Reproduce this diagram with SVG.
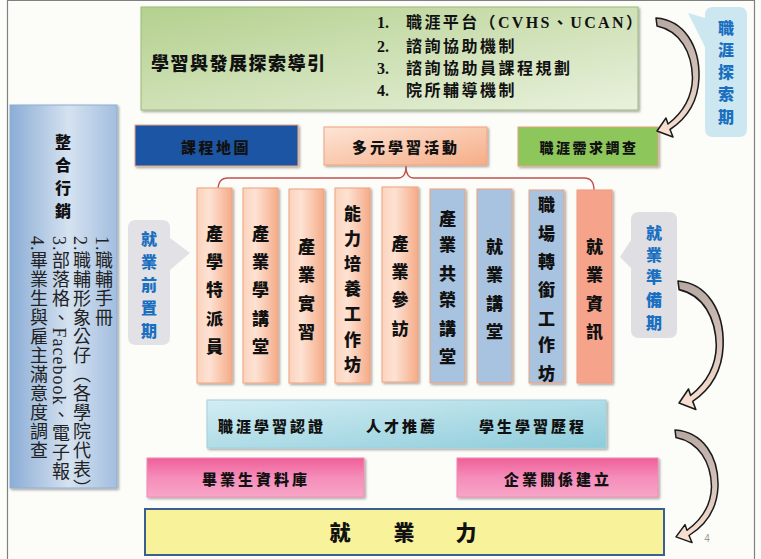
<svg xmlns="http://www.w3.org/2000/svg" width="761" height="559" viewBox="0 0 761 559">
<defs>
  <linearGradient id="gGreen" x1="0" y1="0" x2="1" y2="1">
    <stop offset="0" stop-color="#b4d08e"/>
    <stop offset="1" stop-color="#e9f1dd"/>
  </linearGradient>
  <linearGradient id="gLeft" x1="0" y1="0" x2="1" y2="0">
    <stop offset="0" stop-color="#8badd6"/>
    <stop offset="0.55" stop-color="#d5e2f0"/>
    <stop offset="1" stop-color="#a3bee0"/>
  </linearGradient>
  <linearGradient id="gPeach" x1="0" y1="0" x2="1" y2="0">
    <stop offset="0" stop-color="#fbd3bd"/>
    <stop offset="0.35" stop-color="#fde2d3"/>
    <stop offset="1" stop-color="#f5ab87"/>
  </linearGradient>
  <linearGradient id="gPeachBox" x1="0" y1="0" x2="1" y2="1">
    <stop offset="0" stop-color="#fde5d6"/>
    <stop offset="1" stop-color="#f6ad87"/>
  </linearGradient>
  <linearGradient id="gCyan" x1="0" y1="0" x2="1" y2="1">
    <stop offset="0" stop-color="#d3edf3"/>
    <stop offset="1" stop-color="#8dccda"/>
  </linearGradient>
  <linearGradient id="gPink" x1="0" y1="0" x2="0" y2="1">
    <stop offset="0" stop-color="#ef5f98"/>
    <stop offset="0.5" stop-color="#f58dba"/>
    <stop offset="1" stop-color="#f7a6c7"/>
  </linearGradient>
  <linearGradient id="gArrow" x1="0" y1="0" x2="0" y2="1">
    <stop offset="0" stop-color="#b7a8a2"/>
    <stop offset="0.45" stop-color="#d3c1b9"/>
    <stop offset="1" stop-color="#fde2d2"/>
  </linearGradient>
  <filter id="sh" x="-10%" y="-10%" width="130%" height="130%">
    <feDropShadow dx="1.5" dy="1.5" stdDeviation="0.8" flood-color="#000" flood-opacity="0.35"/>
  </filter>
  <path id="arrow" d="M656,18 C684,20 700,46 699,78 C698,102 686,119 670,129.5 L673,137 L657,131 L666,118 L668,124 C681,114 692,100 692.5,78 C692,52 680,31 657,26 Z"/>
</defs>
<style>
  text, tspan { dominant-baseline: central; }
  .cj { font-family: "Noto Sans CJK TC", "Noto Sans CJK SC", sans-serif; font-weight: 900; fill: #111; }
  .mid { text-anchor: middle; }
  .col { font-size: 17px; }
  .bl { fill: #1a6fc0; font-size: 16px; }
  .ser { font-family: "Liberation Serif", "Noto Sans CJK TC", serif; font-weight: 700; fill: #111; font-size: 16px; }
  .vl { writing-mode: vertical-rl; font-family: "Liberation Serif", "Noto Sans CJK TC", serif; font-weight: 400; font-size: 18px; letter-spacing: 1px; fill: #222; }
  .arr { fill: url(#gArrow); stroke: #1a1a1a; stroke-width: 1.5; stroke-linejoin: round; }
  .peach { fill: url(#gPeach); stroke: #f0a27c; stroke-width: 1; }
  .blue { fill: #a8c3e0; stroke: #f0a27c; stroke-width: 1; }
</style>

<rect x="0" y="0" width="761" height="559" fill="#fcfcf8"/>
<path d="M7.5,559 L7.5,0.5 L754.5,0.5 L754.5,559" fill="none" stroke="#808080" stroke-width="1.2"/>

<g id="explore-guide">
  <rect x="141" y="7" width="497" height="103" fill="url(#gGreen)" stroke="#9cb97c" stroke-width="1" filter="url(#sh)"/>
  <text class="cj" x="151" y="62" font-size="18" textLength="174" lengthAdjust="spacing">學習與發展探索導引</text>
  <text class="ser" x="377" y="22">1.</text>
  <text class="ser" x="406" y="22" textLength="236" lengthAdjust="spacing">職涯平台（CVHS、UCAN）</text>
  <text class="ser" x="377" y="46">2.</text>
  <text class="ser" x="406" y="46" letter-spacing="2.5">諮詢協助機制</text>
  <text class="ser" x="377" y="68">3.</text>
  <text class="ser" x="406" y="68" letter-spacing="2.5">諮詢協助員課程規劃</text>
  <text class="ser" x="377" y="90">4.</text>
  <text class="ser" x="406" y="90" letter-spacing="2.5">院所輔導機制</text>
</g>

<g id="integrated-marketing">
  <rect x="10" y="105" width="107" height="383" fill="url(#gLeft)" stroke="#8eaed4" stroke-width="1" filter="url(#sh)"/>
  <text class="cj mid" font-size="16">
    <tspan x="63" y="141">整</tspan><tspan x="63" y="164">合</tspan><tspan x="63" y="187">行</tspan><tspan x="63" y="210">銷</tspan>
  </text>
  <text class="vl" x="102" y="236">1.職輔手冊</text>
  <text class="vl" x="80" y="236">2.職輔形象公仔（各學院代表）</text>
  <text class="vl" x="59" y="236">3.部落格、Facebook、電子報</text>
  <text class="vl" x="37" y="236">4.畢業生與雇主滿意度調查</text>
</g>

<g id="callout-pre">
  <path d="M136,220 H162 Q170,220 170,228 V238 L190,253 L170,270 V337 Q170,345 162,345 H136 Q128,345 128,337 V228 Q128,220 136,220 Z" fill="#e2e2e6"/>
  <text class="cj bl mid">
    <tspan x="149" y="238">就</tspan><tspan x="149" y="261">業</tspan><tspan x="149" y="284">前</tspan><tspan x="149" y="307">置</tspan><tspan x="149" y="330">期</tspan>
  </text>
</g>

<g id="callout-explore">
  <path d="M713,7 H739 Q747,7 747,15 V129 Q747,137 739,137 H713 Q705,137 705,129 V47 L688,13 L705,18 V15 Q705,7 713,7 Z" fill="#cce7f0"/>
  <text class="cj bl mid">
    <tspan x="726" y="27">職</tspan><tspan x="726" y="49">涯</tspan><tspan x="726" y="71">探</tspan><tspan x="726" y="93">索</tspan><tspan x="726" y="116">期</tspan>
  </text>
</g>

<g id="callout-prep">
  <path d="M639,212 H669 Q677,212 677,220 V330 Q677,338 669,338 H639 Q631,338 631,330 V268 L620,257 L631,240 V220 Q631,212 639,212 Z" fill="#dfdfe3"/>
  <text class="cj bl mid">
    <tspan x="654" y="232">就</tspan><tspan x="654" y="254">業</tspan><tspan x="654" y="276">準</tspan><tspan x="654" y="299">備</tspan><tspan x="654" y="322">期</tspan>
  </text>
</g>

<g id="course-map">
  <rect x="135" y="125" width="163" height="41" fill="#1e55a3" stroke="#eaa67c" stroke-width="1" filter="url(#sh)"/>
  <text class="cj mid" x="216" y="146" font-size="15" letter-spacing="2.5">課程地圖</text>
</g>

<g id="multi-learning">
  <rect x="324" y="127" width="163" height="38" fill="url(#gPeachBox)" stroke="#f0a27c" stroke-width="1" filter="url(#sh)"/>
  <text class="cj mid" x="406" y="146" font-size="15" letter-spacing="3">多元學習活動</text>
</g>

<g id="career-survey">
  <rect x="518" y="127" width="140" height="39" fill="#8dc75b" stroke="#e3a57e" stroke-width="1" filter="url(#sh)"/>
  <text class="cj mid" x="589" y="147" font-size="14" letter-spacing="2.5">職涯需求調查</text>
</g>

<g id="connectors" fill="none">
  <path d="M218,190 Q218,178 228,178 L398,178 Q406,178 406,166 Q406,178 414,178 L584,178 Q594,178 594,190" stroke="#c0504d" stroke-width="1.3"/>
  <use href="#arrow" class="arr"/>
  <use href="#arrow" class="arr" transform="translate(678,281) scale(1.05,1.08) translate(-656,-18)"/>
  <use href="#arrow" class="arr" transform="translate(675,430) scale(1.0,0.946) translate(-656,-18)"/>
</g>

<g id="col1">
  <rect class="peach" x="197" y="188" width="35" height="195" filter="url(#sh)"/>
  <text class="cj col mid"><tspan x="214.5" y="232">產</tspan><tspan x="214.5" y="260">學</tspan><tspan x="214.5" y="288">特</tspan><tspan x="214.5" y="317">派</tspan><tspan x="214.5" y="345">員</tspan></text>
</g>
<g id="col2">
  <rect class="peach" x="243" y="188" width="35" height="195" filter="url(#sh)"/>
  <text class="cj col mid"><tspan x="260.5" y="232">產</tspan><tspan x="260.5" y="260">業</tspan><tspan x="260.5" y="288">學</tspan><tspan x="260.5" y="317">講</tspan><tspan x="260.5" y="345">堂</tspan></text>
</g>
<g id="col3">
  <rect class="peach" x="289" y="189" width="35" height="194" filter="url(#sh)"/>
  <text class="cj col mid"><tspan x="306.5" y="245">產</tspan><tspan x="306.5" y="273">業</tspan><tspan x="306.5" y="302">實</tspan><tspan x="306.5" y="330">習</tspan></text>
</g>
<g id="col4">
  <rect class="peach" x="335" y="188" width="35" height="195" filter="url(#sh)"/>
  <text class="cj col mid"><tspan x="352.5" y="212">能</tspan><tspan x="352.5" y="237">力</tspan><tspan x="352.5" y="262">培</tspan><tspan x="352.5" y="287">養</tspan><tspan x="352.5" y="312">工</tspan><tspan x="352.5" y="338">作</tspan><tspan x="352.5" y="363">坊</tspan></text>
</g>
<g id="col5">
  <rect class="peach" x="382" y="187" width="36" height="195" filter="url(#sh)"/>
  <text class="cj col mid"><tspan x="400" y="242">產</tspan><tspan x="400" y="270">業</tspan><tspan x="400" y="298">參</tspan><tspan x="400" y="327">訪</tspan></text>
</g>
<g id="col6">
  <rect class="blue" x="430" y="189" width="35" height="194" filter="url(#sh)"/>
  <text class="cj col mid"><tspan x="447.5" y="217">產</tspan><tspan x="447.5" y="243">業</tspan><tspan x="447.5" y="272">共</tspan><tspan x="447.5" y="298">榮</tspan><tspan x="447.5" y="327">講</tspan><tspan x="447.5" y="355">堂</tspan></text>
</g>
<g id="col7">
  <rect class="blue" x="477" y="189" width="35" height="194" filter="url(#sh)"/>
  <text class="cj col mid"><tspan x="494.5" y="245">就</tspan><tspan x="494.5" y="273">業</tspan><tspan x="494.5" y="302">講</tspan><tspan x="494.5" y="330">堂</tspan></text>
</g>
<g id="col8">
  <rect class="blue" x="529" y="190" width="35" height="193" filter="url(#sh)"/>
  <text class="cj col mid"><tspan x="546.5" y="203">職</tspan><tspan x="546.5" y="232">場</tspan><tspan x="546.5" y="260">轉</tspan><tspan x="546.5" y="288">銜</tspan><tspan x="546.5" y="317">工</tspan><tspan x="546.5" y="343">作</tspan><tspan x="546.5" y="372">坊</tspan></text>
</g>
<g id="col9">
  <rect x="577" y="190" width="35" height="193" fill="#f5a48b" stroke="#ef9a7e" stroke-width="1" filter="url(#sh)"/>
  <text class="cj col mid"><tspan x="594.5" y="245">就</tspan><tspan x="594.5" y="273">業</tspan><tspan x="594.5" y="302">資</tspan><tspan x="594.5" y="330">訊</tspan></text>
</g>

<g id="certification-band">
  <rect x="207" y="400" width="399" height="48" fill="url(#gCyan)" stroke="#9fd0de" stroke-width="1" filter="url(#sh)"/>
  <text class="cj mid" x="272" y="425" font-size="15" letter-spacing="3">職涯學習認證</text>
  <text class="cj mid" x="402" y="425" font-size="15" letter-spacing="3">人才推薦</text>
  <text class="cj mid" x="533" y="425" font-size="15" letter-spacing="3">學生學習歷程</text>
</g>

<g id="alumni-db">
  <rect x="147" y="458" width="217" height="39" fill="url(#gPink)" stroke="#f08ab4" stroke-width="1" filter="url(#sh)"/>
  <text class="cj mid" x="256" y="478" font-size="15" letter-spacing="3">畢業生資料庫</text>
</g>

<g id="enterprise">
  <rect x="457" y="458" width="201" height="39" fill="url(#gPink)" stroke="#f08ab4" stroke-width="1" filter="url(#sh)"/>
  <text class="cj mid" x="558" y="478" font-size="15" letter-spacing="3">企業關係建立</text>
</g>

<g id="employability">
  <rect x="145" y="509" width="519" height="46" fill="#f8f29b" stroke="#3d5f8f" stroke-width="2"/>
  <text class="cj mid" font-size="21"><tspan x="340" y="531">就</tspan><tspan x="404" y="531">業</tspan><tspan x="466" y="531">力</tspan></text>
</g>

<text x="707" y="538" font-family="Liberation Sans, sans-serif" font-size="10" fill="#9a9a9a" text-anchor="middle">4</text>
</svg>
